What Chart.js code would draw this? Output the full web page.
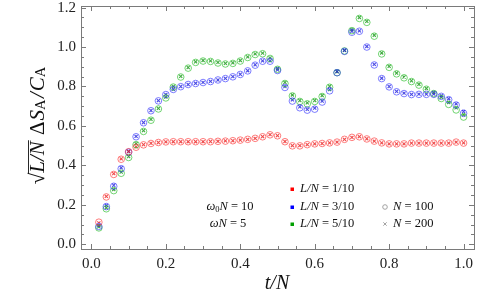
<!DOCTYPE html>
<html>
<head>
<meta charset="utf-8">
<script src="https://cdn.jsdelivr.net/npm/chart.js@4.4.1/dist/chart.umd.min.js"></script>
<style>
  html, body { margin: 0; padding: 0; background: #fff; }
  #wrap { width: 493px; height: 299px; }
</style>
</head>
<body>
<div id="wrap"><canvas id="myChart"></canvas></div>
<script>
// t/N sample points
const tOverN = [
  0.02, 0.04, 0.06, 0.08, 0.10, 0.12, 0.14, 0.16, 0.18, 0.20,
  0.22, 0.24, 0.26, 0.28, 0.30, 0.32, 0.34, 0.36, 0.38, 0.40,
  0.42, 0.44, 0.46, 0.48, 0.50, 0.52, 0.54, 0.56, 0.58, 0.60,
  0.62, 0.64, 0.66, 0.68, 0.70, 0.72, 0.74, 0.76, 0.78, 0.80,
  0.82, 0.84, 0.86, 0.88, 0.90, 0.92, 0.94, 0.96, 0.98, 1.00
];

// L/N = 1/10
const red100 = [
  0.112, 0.240, 0.354, 0.431, 0.469, 0.492, 0.504, 0.511, 0.516, 0.519,
  0.520, 0.520, 0.520, 0.520, 0.520, 0.520, 0.522, 0.523, 0.525, 0.528,
  0.532, 0.537, 0.545, 0.555, 0.550, 0.520, 0.499, 0.499, 0.505, 0.509,
  0.511, 0.514, 0.518, 0.532, 0.542, 0.545, 0.534, 0.523, 0.514, 0.509,
  0.509, 0.509, 0.513, 0.513, 0.513, 0.513, 0.513, 0.513, 0.518, 0.513
];
const red200 = [
  0.108, 0.243, 0.358, 0.433, 0.471, 0.494, 0.505, 0.512, 0.516, 0.519,
  0.520, 0.520, 0.520, 0.520, 0.520, 0.521, 0.522, 0.524, 0.525, 0.528,
  0.532, 0.537, 0.546, 0.556, 0.551, 0.521, 0.500, 0.500, 0.505, 0.509,
  0.511, 0.514, 0.518, 0.532, 0.542, 0.546, 0.535, 0.523, 0.514, 0.509,
  0.509, 0.509, 0.513, 0.513, 0.513, 0.513, 0.513, 0.513, 0.518, 0.514
];

// L/N = 3/10
const blue100 = [
  0.090, 0.191, 0.294, 0.383, 0.467, 0.545, 0.616, 0.677, 0.727, 0.759,
  0.785, 0.799, 0.810, 0.815, 0.820, 0.825, 0.833, 0.840, 0.849, 0.861,
  0.879, 0.908, 0.928, 0.928, 0.881, 0.795, 0.726, 0.692, 0.680, 0.685,
  0.721, 0.778, 0.870, 0.978, 1.075, 1.080, 1.000, 0.909, 0.840, 0.798,
  0.773, 0.764, 0.759, 0.760, 0.760, 0.760, 0.750, 0.733, 0.706, 0.664
];
const blue200 = [
  0.096, 0.197, 0.299, 0.388, 0.470, 0.547, 0.617, 0.678, 0.728, 0.760,
  0.786, 0.800, 0.810, 0.816, 0.821, 0.826, 0.833, 0.841, 0.850, 0.862,
  0.880, 0.910, 0.930, 0.930, 0.884, 0.800, 0.732, 0.697, 0.684, 0.690,
  0.726, 0.784, 0.876, 0.983, 1.080, 1.082, 1.003, 0.912, 0.842, 0.800,
  0.775, 0.766, 0.760, 0.761, 0.761, 0.762, 0.753, 0.738, 0.712, 0.673
];

// L/N = 5/10
const green100 = [
  0.083, 0.180, 0.272, 0.360, 0.440, 0.505, 0.572, 0.629, 0.686, 0.742,
  0.797, 0.848, 0.893, 0.922, 0.929, 0.927, 0.919, 0.914, 0.917, 0.929,
  0.947, 0.962, 0.966, 0.942, 0.887, 0.815, 0.752, 0.724, 0.712, 0.724,
  0.749, 0.796, 0.870, 0.980, 1.083, 1.145, 1.125, 1.055, 0.965, 0.897,
  0.864, 0.844, 0.825, 0.807, 0.786, 0.764, 0.739, 0.709, 0.681, 0.645
];
const green200 = [
  0.088, 0.185, 0.278, 0.366, 0.445, 0.510, 0.576, 0.633, 0.689, 0.746,
  0.800, 0.851, 0.896, 0.925, 0.932, 0.930, 0.922, 0.917, 0.920, 0.932,
  0.950, 0.965, 0.969, 0.945, 0.892, 0.821, 0.757, 0.729, 0.717, 0.729,
  0.754, 0.801, 0.875, 0.983, 1.088, 1.150, 1.130, 1.060, 0.970, 0.902,
  0.868, 0.848, 0.829, 0.811, 0.790, 0.770, 0.745, 0.719, 0.692, 0.656
];

const xTicks = [0.0, 0.2, 0.4, 0.6, 0.8, 1.0];
const yTicks = [0.0, 0.2, 0.4, 0.6, 0.8, 1.0, 1.2];

const serif = "'Liberation Serif', 'DejaVu Serif', serif";

function pts(ys) {
  return tOverN.map((t, i) => ({ x: t, y: ys[i] }));
}

function circleSet(ys, color) {
  return {
    data: pts(ys),
    pointStyle: "circle",
    pointRadius: 3.3,
    pointBorderWidth: 1,
    pointBackgroundColor: "rgba(0,0,0,0)",
    pointBorderColor: color,
    showLine: false,
  };
}

function crossSet(ys, color) {
  return {
    data: pts(ys),
    pointStyle: "crossRot",
    pointRadius: 2.2,
    pointBorderWidth: 1.1,
    pointBorderColor: color,
    pointBackgroundColor: color,
    showLine: false,
  };
}

// draw a row of text pieces with mixed fonts
function drawRuns(ctx, runs, x, y, align) {
  ctx.textAlign = "left";
  let total = 0;
  runs.forEach((r) => {
    ctx.font = r.font;
    r.w = ctx.measureText(r.t).width + (r.gap || 0);
    total += r.w;
  });
  let cx = align === "center" ? x - total / 2 : x;
  runs.forEach((r) => {
    ctx.font = r.font;
    ctx.fillText(r.t, cx, y + (r.dy || 0));
    if (r.over) {
      ctx.fillRect(cx - 1, y - 10, r.w + 1, 0.9);
    }
    cx += r.w;
  });
  return total;
}

function noPad(s) {
  s.paddingTop = 0;
  s.paddingBottom = 0;
  s.paddingLeft = 0;
  s.paddingRight = 0;
}

const framePlugin = {
  id: "frame",
  afterDatasetsDraw(chart) {
    const { ctx, chartArea: a, scales } = chart;
    const x = scales.x, y = scales.y;
    ctx.save();
    ctx.strokeStyle = "#7a7a7a";
    ctx.lineWidth = 1;
    ctx.strokeRect(Math.round(a.left) + 0.5, Math.round(a.top) + 0.5,
      Math.round(a.right - a.left), Math.round(a.bottom - a.top));

    ctx.beginPath();
    for (let k = -1; k <= 21; k++) {
      const v = k * 0.05;
      const px = Math.round(x.getPixelForValue(v)) + 0.5;
      if (px < a.left || px > a.right) continue;
      const len = k % 4 === 0 ? 5 : 3;
      ctx.moveTo(px, a.bottom); ctx.lineTo(px, a.bottom - len);
      ctx.moveTo(px, a.top); ctx.lineTo(px, a.top + len);
    }
    for (let k = -1; k <= 25; k++) {
      const v = k * 0.05;
      const py = Math.round(y.getPixelForValue(v)) + 0.5;
      if (py < a.top || py > a.bottom) continue;
      const len = k % 4 === 0 ? 5 : 3;
      ctx.moveTo(a.left, py); ctx.lineTo(a.left + len, py);
      ctx.moveTo(a.right, py); ctx.lineTo(a.right - len, py);
    }
    ctx.stroke();
    ctx.restore();
  },
  afterDraw(chart) {
    const { ctx } = chart;
    ctx.save();
    ctx.fillStyle = "#111";
    ctx.textBaseline = "middle";

    // x axis title
    drawRuns(ctx, [{ t: "t/N", font: "italic 20px " + serif }], 277, 284, "center");

    // y axis title (rotated)
    ctx.save();
    ctx.translate(38, 125.5);
    ctx.rotate(-Math.PI / 2);
    drawRuns(ctx, [
      { t: "\u221A", font: "21px " + serif },
      { t: "L/N", font: "italic 21px " + serif, over: true, gap: 1 },
      { t: " \u0394", font: "21px " + serif, gap: 1 },
      { t: "S", font: "italic 21px " + serif },
      { t: "A", font: "14.5px " + serif, dy: 3, gap: 1.5 },
      { t: "/", font: "italic 21px " + serif, gap: 1 },
      { t: "C", font: "italic 21px " + serif },
      { t: "A", font: "14.5px " + serif, dy: 3 },
    ], 0, 0, "center");
    ctx.restore();

    // parameter annotation
    drawRuns(ctx, [
      { t: "\u03C9", font: "italic 12.5px " + serif },
      { t: "0", font: "8.5px " + serif, dy: 2.5 },
      { t: "N", font: "italic 12.5px " + serif },
      { t: " = 10", font: "12.5px " + serif },
    ], 230, 207, "center");
    drawRuns(ctx, [
      { t: "\u03C9N", font: "italic 12.5px " + serif },
      { t: " = 5", font: "12.5px " + serif },
    ], 228, 224, "center");

    // legend
    const rows = [
      { c: "#ff0000", t: " = 1/10", y: 189 },
      { c: "#0000ff", t: " = 3/10", y: 207 },
      { c: "#00a000", t: " = 5/10", y: 224 },
    ];
    rows.forEach((r) => {
      ctx.fillStyle = r.c;
      ctx.fillRect(290.5, r.y - 1.5, 3.5, 3.5);
      ctx.fillStyle = "#111";
      drawRuns(ctx, [
        { t: "L/N", font: "italic 12.5px " + serif },
        { t: r.t, font: "12.5px " + serif },
      ], 300, r.y, "left");
    });
    ctx.strokeStyle = "#999";
    ctx.lineWidth = 0.9;
    ctx.beginPath();
    ctx.arc(385, 207, 2.3, 0, Math.PI * 2);
    ctx.stroke();
    ctx.beginPath();
    ctx.moveTo(383.3, 222.3); ctx.lineTo(386.7, 225.7);
    ctx.moveTo(386.7, 222.3); ctx.lineTo(383.3, 225.7);
    ctx.stroke();
    drawRuns(ctx, [
      { t: "N", font: "italic 12.5px " + serif },
      { t: " = 100", font: "12.5px " + serif },
    ], 393, 207, "left");
    drawRuns(ctx, [
      { t: "N", font: "italic 12.5px " + serif },
      { t: " = 200", font: "12.5px " + serif },
    ], 393, 224, "left");
    ctx.restore();
  },
};

function renderChart() {
  const ctx = document.getElementById("myChart");
  new Chart(ctx, {
    type: "scatter",
    data: {
      datasets: [
        circleSet(red100, "rgba(255,40,40,0.6)"),
        circleSet(blue100, "rgba(40,40,255,0.6)"),
        circleSet(green100, "rgba(40,190,40,0.65)"),
        crossSet(red200, "rgba(235,30,30,0.8)"),
        crossSet(blue200, "rgba(30,30,220,0.8)"),
        crossSet(green200, "rgba(20,150,20,0.8)"),
      ],
    },
    options: {
      responsive: false,
      animation: false,
      devicePixelRatio: 1,
      layout: { padding: { left: 0, right: 19, top: 6, bottom: 0 } },
      plugins: { legend: { display: false }, tooltip: { enabled: false } },
      scales: {
        x: {
          type: "linear",
          min: -0.028,
          max: 1.028,
          border: { display: false },
          grid: { display: false, drawTicks: false },
          afterBuildTicks: (s) => { s.ticks = xTicks.map((v) => ({ value: v })); },
          afterFit: (s) => { s.height = 50; noPad(s); },
          ticks: {
            padding: 6,
            color: "#222",
            font: { family: serif, size: 15 },
            maxRotation: 0,
            callback: (v) => Number(v).toFixed(1),
          },
        },
        y: {
          type: "linear",
          min: -0.024,
          max: 1.208,
          border: { display: false },
          grid: { display: false, drawTicks: false },
          afterBuildTicks: (s) => { s.ticks = yTicks.map((v) => ({ value: v })); },
          afterFit: (s) => { s.width = 81; noPad(s); },
          ticks: {
            padding: 5,
            color: "#222",
            font: { family: serif, size: 15 },
            callback: (v) => Number(v).toFixed(1),
          },
        },
      },
    },
    plugins: [framePlugin],
  });
}

const cv = document.getElementById("myChart");
cv.width = 493;
cv.height = 299;
renderChart();
</script>
</body>
</html>
